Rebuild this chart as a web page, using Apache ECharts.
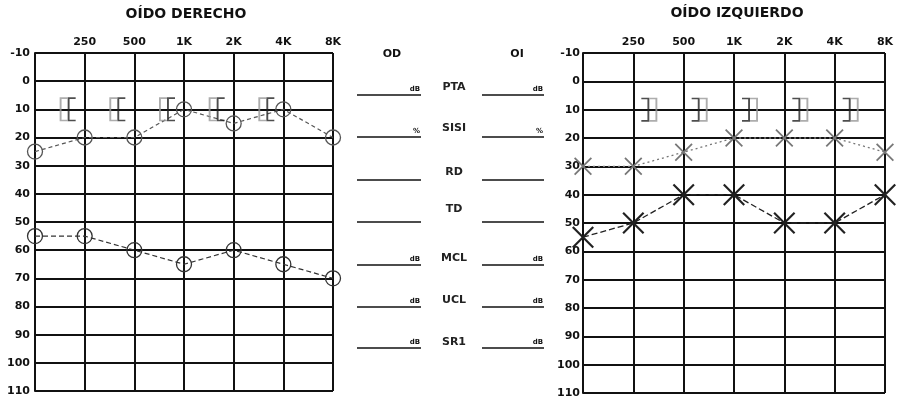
<!DOCTYPE html>
<html>
<head>
<meta charset="utf-8">
<script src="https://cdn.jsdelivr.net/npm/echarts@6/dist/echarts.min.js"></script>
<style>
  html, body { margin: 0; padding: 0; background: #fff; }
  #chart { width: 897px; height: 403px; }
</style>
</head>
<body>
<div id="chart"></div>
<script>
// Frequencies on the audiogram (Hz); 125 is the unlabeled left edge
const freqs = ['125', '250', '500', '1K', '2K', '4K', '8K'];
const hlTicks = [-10, 0, 10, 20, 30, 40, 50, 60, 70, 80, 90, 100, 110];

// Right ear (OÍDO DERECHO), thresholds in dB HL
const odAirUpper = [25, 20, 20, 10, 15, 10, 20];
const odBone     = [null, 10, 10, 10, 10, 10, null];
const odAirLower = [55, 55, 60, 65, 60, 65, 70];

// Left ear (OÍDO IZQUIERDO), thresholds in dB HL
const oiAirUpper = [30, 30, 25, 20, 20, 20, 25];
const oiBone     = [null, 10, 10, 10, 10, 10, null];
const oiAirLower = [55, 50, 40, 40, 50, 50, 40];

// Side panel rows
const panelRows  = ['PTA', 'SISI', 'RD', 'TD', 'MCL', 'UCL', 'SR1'];
const panelUnits = ['dB', '%', '', '', 'dB', 'dB', 'dB'];

const INK = '#111';
const FONT = 'DejaVu Sans, sans-serif';

const crossPath = 'path://M0,1.4 L1.4,0 L20,18.6 L18.6,20 Z M18.6,0 L20,1.4 L1.4,20 L0,18.6 Z';
const leftBracket = 'path://M0,0 H8 V1.6 H1.9 V22.4 H8 V24 H0 Z';
const rightBracket = 'path://M0,0 H8 V24 H0 V22.4 H6.1 V1.6 H0 Z';

function xAxisFor(gridIndex) {
  return {
    gridIndex, type: 'category', data: freqs, boundaryGap: false, position: 'top',
    axisLine: { show: true, lineStyle: { color: INK, width: 2 } },
    axisTick: { show: false },
    axisLabel: {
      margin: 5, color: INK, fontFamily: FONT, fontWeight: 'bold', fontSize: 11,
      formatter: v => (v === '125' ? '' : v)
    },
    splitLine: { show: true, lineStyle: { color: INK, width: 2 } }
  };
}
function yAxisFor(gridIndex, margin) {
  return {
    gridIndex, type: 'value', inverse: true,
    min: hlTicks[0], max: hlTicks[hlTicks.length - 1], interval: 10,
    axisLine: { show: true, lineStyle: { color: INK, width: 2 } },
    axisTick: { show: false },
    axisLabel: { margin, color: INK, fontFamily: FONT, fontWeight: 'bold', fontSize: 11 },
    splitLine: { show: true, lineStyle: { color: INK, width: 2 } }
  };
}

function circleLine(data, xi, color, dash) {
  return {
    type: 'line', xAxisIndex: xi, yAxisIndex: xi, data, clip: false,
    symbol: 'circle', symbolSize: 15,
    itemStyle: { color: 'rgba(255,255,255,0)', borderColor: color, borderWidth: 1.3 },
    lineStyle: { color, width: 1.2, type: dash }, z: 5
  };
}
function crossLine(data, xi, color, dash, size) {
  return {
    type: 'line', xAxisIndex: xi, yAxisIndex: xi, data, clip: false,
    symbol: crossPath, symbolSize: size,
    itemStyle: { color }, lineStyle: { color, width: 1.3, type: dash }, z: 5
  };
}
function bracketMarks(data, xi, path, offset, color) {
  return {
    type: 'scatter', xAxisIndex: xi, yAxisIndex: xi, data, clip: false,
    symbol: path, symbolSize: [8, 24], symbolOffset: [offset, 0],
    itemStyle: { color }, z: 6
  };
}

// Titles and the middle table of test results
const graphics = [
  { type: 'text', style: { text: 'OÍDO DERECHO', x: 186, y: 14, align: 'center', verticalAlign: 'middle', font: 'bold 14px ' + FONT, fill: INK } },
  { type: 'text', style: { text: 'OÍDO IZQUIERDO', x: 737, y: 13, align: 'center', verticalAlign: 'middle', font: 'bold 14px ' + FONT, fill: INK } },
  { type: 'text', style: { text: 'OD', x: 392, y: 54, align: 'center', verticalAlign: 'middle', font: 'bold 11px ' + FONT, fill: INK } },
  { type: 'text', style: { text: 'OI', x: 517, y: 54, align: 'center', verticalAlign: 'middle', font: 'bold 11px ' + FONT, fill: INK } }
];
const rowLabelY = [87, 128, 172, 209, 258, 300, 342];
const rowLineY  = [95, 137, 180, 222, 265, 307, 348];
panelRows.forEach((name, i) => {
  graphics.push({ type: 'text', style: { text: name, x: 454, y: rowLabelY[i], align: 'center', verticalAlign: 'middle', font: 'bold 11px ' + FONT, fill: '#222' } });
  graphics.push({ type: 'line', shape: { x1: 357, y1: rowLineY[i], x2: 421, y2: rowLineY[i] }, style: { stroke: INK, lineWidth: 1.5 } });
  graphics.push({ type: 'line', shape: { x1: 482, y1: rowLineY[i], x2: 544, y2: rowLineY[i] }, style: { stroke: INK, lineWidth: 1.5 } });
  if (panelUnits[i]) {
    graphics.push({ type: 'text', style: { text: panelUnits[i], x: 420, y: rowLineY[i] - 2, align: 'right', verticalAlign: 'bottom', font: 'bold 7px ' + FONT, fill: INK } });
    graphics.push({ type: 'text', style: { text: panelUnits[i], x: 543, y: rowLineY[i] - 2, align: 'right', verticalAlign: 'bottom', font: 'bold 7px ' + FONT, fill: INK } });
  }
});

const chart = echarts.init(document.getElementById('chart'), null, { renderer: 'canvas' });
chart.setOption({
  backgroundColor: '#fff',
  animation: false,
  grid: [
    { left: 35, top: 53, width: 298, height: 338, show: false },
    { left: 583, top: 53, width: 302, height: 340, show: false }
  ],
  xAxis: [xAxisFor(0), xAxisFor(1)],
  yAxis: [yAxisFor(0, 5), yAxisFor(1, 3)],
  series: [
    // Right ear
    circleLine(odAirUpper, 0, '#555', [4, 3]),
    circleLine(odAirLower, 0, '#333', [5, 3]),
    bracketMarks(odBone, 0, leftBracket, -13, '#222'),
    bracketMarks(odBone, 0, leftBracket, -21, '#999'),
    // Left ear
    crossLine(oiAirUpper, 1, '#777', [2, 3], 18),
    crossLine(oiAirLower, 1, '#222', [6, 3], 22),
    bracketMarks(oiBone, 1, rightBracket, 12, '#222'),
    bracketMarks(oiBone, 1, rightBracket, 20, '#999')
  ],
  graphic: graphics
});
</script>
</body>
</html>
